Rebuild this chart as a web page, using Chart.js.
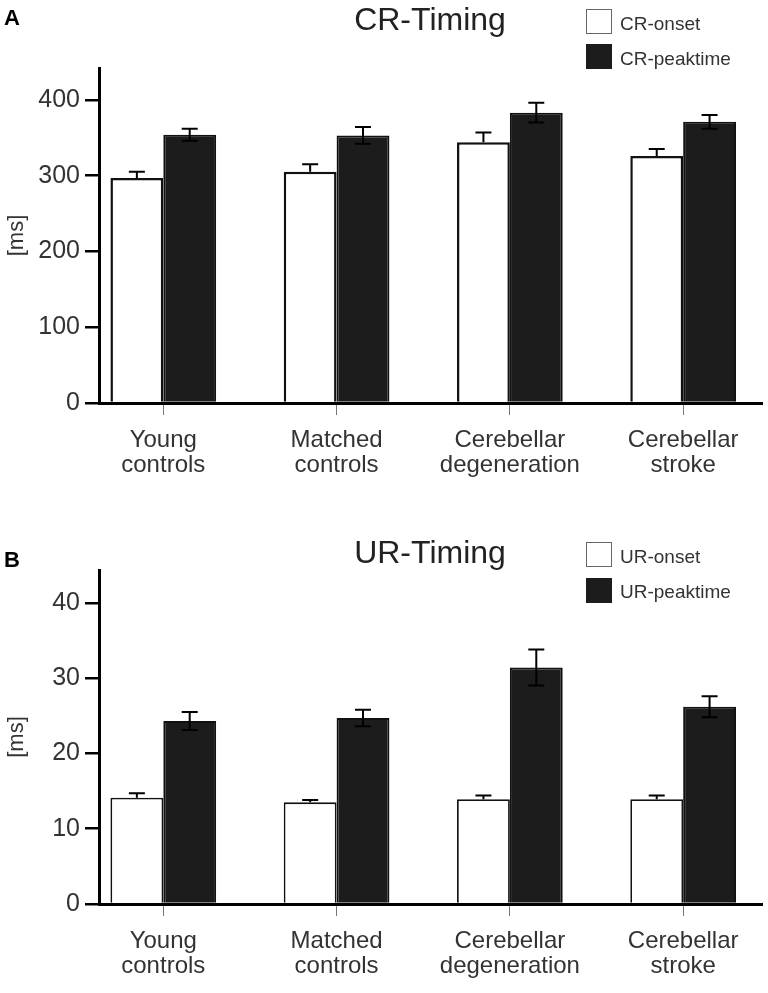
<!DOCTYPE html>
<html>
<head>
<meta charset="utf-8">
<script src="https://cdn.jsdelivr.net/npm/chart.js@4.4.0/dist/chart.umd.min.js"></script>
<style>
    body { margin: 0; background: #fff; width: 768px; height: 993px; position: relative; overflow: hidden;
           font-family: 'Liberation Sans', Arial, sans-serif; }
    canvas { position: absolute; left: 0; }
    .lbl { position: absolute; white-space: nowrap; line-height: 1; color: #222; }
    .panel { font-weight: bold; font-size: 22px; color: #000; }
    .title { font-size: 32px; width: 240px; text-align: center; }
    .leg { font-size: 19px; color: #333; }
    .box { position: absolute; box-sizing: border-box; width: 26px; height: 25px; border: 1.5px solid #666; }
</style>
</head>
<body>
<canvas id="crChart" width="768" height="490" style="top:0"></canvas>
<canvas id="urChart" width="768" height="493" style="top:500px"></canvas>

<div class="lbl panel" style="left:4px;top:7px">A</div>
<div class="lbl title" style="left:310px;top:3px">CR-Timing</div>
<div class="box" style="left:586px;top:9px;background:#fff"></div>
<div class="lbl leg" style="left:620px;top:14px">CR-onset</div>
<div class="box" style="left:586px;top:44px;background:#1c1c1c;border-color:#1c1c1c"></div>
<div class="lbl leg" style="left:620px;top:49px">CR-peaktime</div>

<div class="lbl panel" style="left:4px;top:549px">B</div>
<div class="lbl title" style="left:310px;top:536px">UR-Timing</div>
<div class="box" style="left:586px;top:542px;background:#fff"></div>
<div class="lbl leg" style="left:620px;top:547px">UR-onset</div>
<div class="box" style="left:586px;top:578px;background:#1c1c1c;border-color:#1c1c1c"></div>
<div class="lbl leg" style="left:620px;top:582px">UR-peaktime</div>

<script>
// Groups (x tick labels, two lines each)
const groups = [
    ['Young', 'controls'],
    ['Matched', 'controls'],
    ['Cerebellar', 'degeneration'],
    ['Cerebellar', 'stroke']
];

// Panel A - CR timing [ms]
const crOnset = [297, 305, 344, 326];
const crOnsetErr = [8, 10, 13, 9];
const crPeak = [354, 353, 383, 371];
const crPeakErr = [8, 11, 13, 9];
const crTicks = [0, 100, 200, 300, 400];

// Panel B - UR timing [ms]
const urOnset = [14.1, 13.5, 13.9, 13.9];
const urOnsetErr = [0.6, 0.3, 0.5, 0.5];
const urPeak = [24.3, 24.7, 31.4, 26.2];
const urPeakErr = [1.2, 1.1, 2.4, 1.4];
const urTicks = [0, 10, 20, 30, 40];

const textColor = '#333';
const fontFamily = "'Liberation Sans', Arial, sans-serif";

// Draws symmetric error bars on top of each bar
const errorBarPlugin = {
    id: 'errorBars',
    afterDatasetsDraw(chart) {
        const ctx = chart.ctx;
        const yScale = chart.scales.y;
        chart.data.datasets.forEach((ds, i) => {
            const meta = chart.getDatasetMeta(i);
            meta.data.forEach((bar, j) => {
                const v = ds.data[j].y;
                const e = ds.errors[j];
                const top = yScale.getPixelForValue(v + e);
                const bottom = ds.lowerCap ? yScale.getPixelForValue(v - e) : bar.y;
                ctx.save();
                ctx.strokeStyle = '#000';
                ctx.lineWidth = 2;
                ctx.beginPath();
                ctx.moveTo(bar.x, bottom);
                ctx.lineTo(bar.x, top);
                ctx.moveTo(bar.x - 8, top);
                ctx.lineTo(bar.x + 8, top);
                if (ds.lowerCap) {
                    ctx.moveTo(bar.x - 8, bottom);
                    ctx.lineTo(bar.x + 8, bottom);
                }
                ctx.stroke();
                ctx.restore();
            });
        });
    }
};

function toPoints(values) {
    return values.map((v, i) => ({ x: i, y: v }));
}

function makeChart(canvasId, cfg) {
    const ctx = document.getElementById(canvasId).getContext('2d');
    return new Chart(ctx, {
        type: 'bar',
        data: {
            datasets: [{
                label: cfg.names[0],
                data: toPoints(cfg.onset),
                errors: cfg.onsetErr,
                lowerCap: false,
                backgroundColor: '#fff',
                borderColor: '#111',
                borderWidth: cfg.onsetBorder
            }, {
                label: cfg.names[1],
                data: toPoints(cfg.peak),
                errors: cfg.peakErr,
                lowerCap: true,
                backgroundColor: '#1c1c1c',
                borderColor: '#111',
                borderWidth: 2
            }]
        },
        options: {
            responsive: false,
            animation: false,
            devicePixelRatio: 1,
            categoryPercentage: 0.61,
            barPercentage: 1,
            layout: { padding: { top: cfg.padTop, right: 6, left: 0, bottom: 0 } },
            plugins: {
                legend: { display: false },
                tooltip: { enabled: false }
            },
            scales: {
                x: {
                    type: 'linear',
                    offset: false,
                    min: -0.371,
                    max: 3.455,
                    afterBuildTicks: (scale) => {
                        scale.ticks = groups.map((g, i) => ({ value: i }));
                    },
                    afterFit: (scale) => { scale.height = cfg.axisHeight; },
                    ticks: {
                        autoSkip: false,
                        maxRotation: 0,
                        padding: 13,
                        color: textColor,
                        font: { family: fontFamily, size: 24, lineHeight: 1.05 },
                        callback: (value) => groups[value]
                    },
                    grid: {
                        offset: false,
                        drawOnChartArea: false,
                        color: '#777',
                        lineWidth: 1,
                        tickLength: 12
                    },
                    border: { display: true, color: '#000', width: 3 }
                },
                y: {
                    min: 0,
                    max: cfg.yMax,
                    afterBuildTicks: (scale) => {
                        scale.ticks = cfg.ticks.map(v => ({ value: v }));
                    },
                    afterFit: (scale) => { scale.width = 99; },
                    ticks: {
                        padding: 5,
                        color: textColor,
                        font: { family: fontFamily, size: 25 }
                    },
                    grid: {
                        drawOnChartArea: false,
                        color: '#000',
                        lineWidth: 2.5,
                        tickLength: 14
                    },
                    border: { display: true, color: '#000', width: 3 },
                    title: {
                        display: true,
                        text: '[ms]',
                        color: textColor,
                        padding: { top: 4, bottom: 0 },
                        font: { family: fontFamily, size: 22 }
                    }
                }
            }
        },
        plugins: [errorBarPlugin]
    });
}

makeChart('crChart', {
    names: ['CR-onset', 'CR-peaktime'],
    onset: crOnset, onsetErr: crOnsetErr,
    peak: crPeak, peakErr: crPeakErr,
    ticks: crTicks, yMax: 442,
    padTop: 68, axisHeight: 87, onsetBorder: 2.5
});

makeChart('urChart', {
    names: ['UR-onset', 'UR-peaktime'],
    onset: urOnset, onsetErr: urOnsetErr,
    peak: urPeak, peakErr: urPeakErr,
    ticks: urTicks, yMax: 44.35,
    padTop: 70, axisHeight: 89, onsetBorder: 1.8
});
</script>
</body>
</html>
